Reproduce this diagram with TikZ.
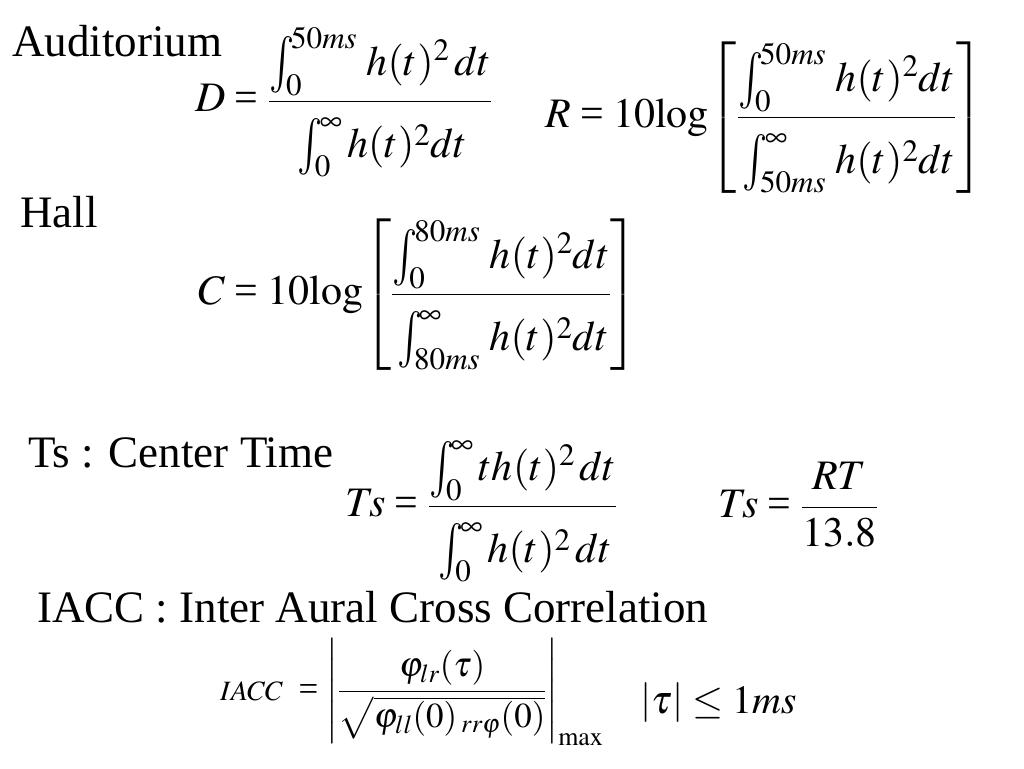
\documentclass[tikz,border=0pt]{standalone}
\usepackage{amsmath}
\usepackage{graphicx}
\usepackage{mathptmx}
\usepackage{fontspec}
\setmainfont{Liberation Serif}
\thickmuskip=4mu plus 2mu
\newcommand{\slideint}[2]{\mathop{\vcenter{\hbox{\scalebox{1}[1.35]{$\textstyle\int$}}}}\nolimits_{\kern-8pt #1}^{\kern-3pt #2}}
\newcommand{\denstrut}{\rule{0pt}{50pt}}
\newcommand{\eqsign}{\mathrel{\text{=}}}

\begin{document}
\begin{tikzpicture}[x=1pt,y=1pt,
  slidetext/.style={anchor=base west, inner sep=0pt, font=\fontsize{45}{50}\selectfont},
  eqn/.style={anchor=base west, inner sep=0pt, font=\fontsize{42}{48}\selectfont},
  smalleqn/.style={anchor=base west, inner sep=0pt, font=\fontsize{35}{40}\selectfont}]

\useasboundingbox (0,0) rectangle (1024,768);

% headings %
\node[slidetext] (aud) at (12,711) {Auditorium};
\node[slidetext] (hall) at (20,540) {Hall};
\node[slidetext] (tsname) at (28,300) {Ts : Center Time};
\node[slidetext] (iaccname) at (37,146) {IACC : Inter Aural Cross Correlation};

% D and R %
\node[eqn] (deq) at (195,656)
{$D\eqsign\dfrac{\slideint{0}{50ms}\,h(t)^2\,dt}{\denstrut\slideint{0}{\infty}h(t)^2dt}$};
\node[eqn] (req) at (545,640)
{$R\eqsign\mathrm{10log}\!\left[\dfrac{\slideint{0}{50ms}\,h(t)^2dt}{\denstrut\slideint{50ms}{\infty}\,h(t)^2dt}\right]$};

% C %
\node[eqn] (ceq) at (198,463)
{$C\eqsign\mathrm{10log}\!\left[\dfrac{\slideint{0}{80ms}\,h(t)^2dt}{\denstrut\slideint{80ms}{\infty}\,h(t)^2dt}\right]$};

% Ts %
\node[eqn] (tseq) at (345,251)
{$T\!s\eqsign\dfrac{\slideint{0}{\infty}th(t)^2\,dt}{\denstrut\slideint{0}{\infty}h(t)^2\,dt}$};
\node[eqn] (tsrt) at (718,250) {$T\!s\eqsign\dfrac{RT}{13.8}$};

% IACC %
\node[smalleqn] (iacceq) at (220,68)
{$\scalebox{0.8}{$IACC$}\;\eqsign\left|\dfrac{\varphi_{lr}(\tau)}{\sqrt{\varphi_{ll}(0)\,{}_{rr\varphi}(0)}}\right|_{\mathrm{max}}$};
\node[eqn, font=\fontsize{40}{46}\selectfont] (taueq) at (640,55) {$\left|\tau\right|\le 1ms$};

\end{tikzpicture}
\end{document}
